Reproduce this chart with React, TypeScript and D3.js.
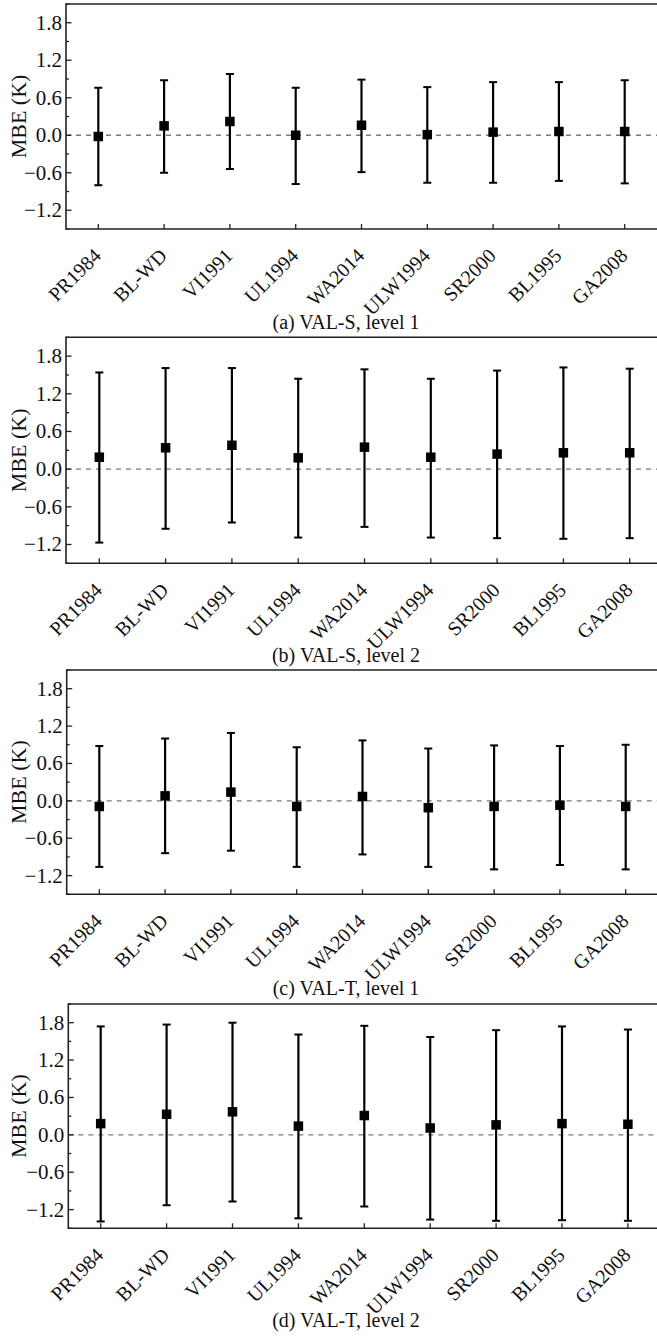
import React from "react";
import * as d3 from "d3";

const categories = ["PR1984", "BL-WD", "VI1991", "UL1994", "WA2014", "ULW1994", "SR2000", "BL1995", "GA2008"];
const yTicks = [-1.2, -0.6, 0.0, 0.6, 1.2, 1.8];
const yMinorTicks = [-1.5, -0.9, -0.3, 0.3, 0.9, 1.5, 2.1];

// (a) VAL-S, level 1
const meanA = [-0.02, 0.15, 0.22, 0.0, 0.16, 0.01, 0.05, 0.06, 0.06];
const upA = [0.76, 0.88, 0.98, 0.76, 0.89, 0.77, 0.85, 0.85, 0.88];
const lowA = [-0.8, -0.6, -0.54, -0.78, -0.59, -0.76, -0.76, -0.73, -0.77];
// (b) VAL-S, level 2
const meanB = [0.19, 0.34, 0.38, 0.18, 0.35, 0.19, 0.24, 0.26, 0.26];
const upB = [1.54, 1.61, 1.61, 1.44, 1.59, 1.44, 1.57, 1.62, 1.6];
const lowB = [-1.17, -0.95, -0.85, -1.09, -0.92, -1.09, -1.1, -1.11, -1.1];
// (c) VAL-T, level 1
const meanC = [-0.09, 0.08, 0.14, -0.09, 0.07, -0.11, -0.09, -0.07, -0.09];
const upC = [0.88, 1.0, 1.09, 0.86, 0.97, 0.84, 0.89, 0.88, 0.9];
const lowC = [-1.06, -0.84, -0.8, -1.06, -0.86, -1.06, -1.1, -1.03, -1.1];
// (d) VAL-T, level 2
const meanD = [0.18, 0.33, 0.37, 0.14, 0.31, 0.11, 0.16, 0.18, 0.17];
const upD = [1.74, 1.77, 1.8, 1.61, 1.75, 1.57, 1.68, 1.74, 1.69];
const lowD = [-1.39, -1.13, -1.07, -1.34, -1.15, -1.36, -1.38, -1.37, -1.38];

const captions = ["(a) VAL-S, level 1", "(b) VAL-S, level 2", "(c) VAL-T, level 1", "(d) VAL-T, level 2"];

const panels = [
  { mean: meanA, up: upA, low: lowA, caption: captions[0], left: 66, top: 4, bottom: 229, x0: 98.3, step: 65.8, capY: 322 },
  { mean: meanB, up: upB, low: lowB, caption: captions[1], left: 66, top: 337.3, bottom: 563.3, x0: 99.3, step: 66.3, capY: 655 },
  { mean: meanC, up: upC, low: lowC, caption: captions[2], left: 66.7, top: 670, bottom: 894.3, x0: 99.3, step: 65.8, capY: 988 },
  { mean: meanD, up: upD, low: lowD, caption: captions[3], left: 68.3, top: 1004, bottom: 1228.3, x0: 100.7, step: 65.9, capY: 1320 },
];

const FONT = "'Liberation Serif', 'Times New Roman', serif";

function Panel({ p }: { p: (typeof panels)[number] }) {
  const y = d3.scaleLinear().domain([-1.5, 2.1]).range([p.bottom, p.top]);
  const x = d3.scaleLinear().domain([0, categories.length - 1]).range([p.x0, p.x0 + (categories.length - 1) * p.step]);
  const right = x(categories.length - 0.5);
  const frame = "#222";
  return (
    <g>
      <line x1={p.left} x2={right} y1={y(0)} y2={y(0)} stroke="#7a7a7a" strokeWidth={1.3} strokeDasharray="5,5" />
      {categories.map((c, i) => (
        <g key={c}>
          <line x1={x(i)} x2={x(i)} y1={y(p.up[i])} y2={y(p.low[i])} stroke="#000" strokeWidth={2.2} />
          <line x1={x(i) - 4} x2={x(i) + 4} y1={y(p.up[i])} y2={y(p.up[i])} stroke="#000" strokeWidth={2} />
          <line x1={x(i) - 4} x2={x(i) + 4} y1={y(p.low[i])} y2={y(p.low[i])} stroke="#000" strokeWidth={2} />
          <rect x={x(i) - 4.75} y={y(p.mean[i]) - 4.75} width={9.5} height={9.5} fill="#000" />
        </g>
      ))}
      <path d={`M${right},${p.top}H${p.left}V${p.bottom}H${right}`} fill="none" stroke={frame} strokeWidth={1.6} />
      {yTicks.map((t) => (
        <g key={t}>
          <line x1={p.left} x2={p.left + 5.5} y1={y(t)} y2={y(t)} stroke={frame} strokeWidth={1.3} />
          <text x={p.left - 4} y={y(t)} textAnchor="end" dominantBaseline="central" fontSize={21} fontFamily={FONT} fill="#111">
            {d3.format(".1f")(t)}
          </text>
        </g>
      ))}
      {yMinorTicks.map((t) => (
        <line key={t} x1={p.left} x2={p.left + 3} y1={y(t)} y2={y(t)} stroke={frame} strokeWidth={1.3} />
      ))}
      {categories.map((c, i) => (
        <g key={c}>
          <line x1={x(i)} x2={x(i)} y1={p.bottom} y2={p.bottom - 5} stroke={frame} strokeWidth={1.3} />
          <text
            transform={`translate(${x(i) + 4},${p.bottom + 28}) rotate(-45)`}
            textAnchor="end"
            fontSize={20}
            fontFamily={FONT}
            fill="#111"
          >
            {c}
          </text>
        </g>
      ))}
      <text
        transform={`translate(${18},${(p.top + p.bottom) / 2}) rotate(-90)`}
        textAnchor="middle"
        dominantBaseline="central"
        fontSize={22}
        fontFamily={FONT}
        fill="#111"
      >
        MBE (K)
      </text>
      <text x={346} y={p.capY} textAnchor="middle" dominantBaseline="central" fontSize={20} fontFamily={FONT} fill="#111">
        {p.caption}
      </text>
    </g>
  );
}

export default function App() {
  return (
    <svg width={657} height={1336} style={{ position: "absolute", left: 0, top: 0, background: "#fff" }}>
      <rect width={657} height={1336} fill="#fff" />
      {panels.map((p, i) => (
        <Panel key={i} p={p} />
      ))}
    </svg>
  );
}
